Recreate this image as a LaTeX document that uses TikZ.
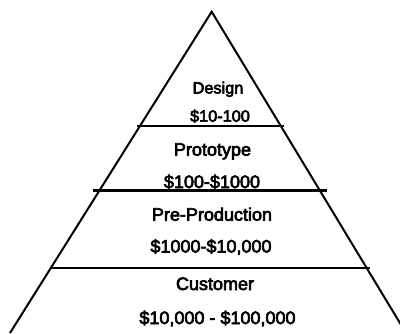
\documentclass[tikz,border=0pt]{standalone}
\usepackage{fontspec}
\setmainfont{Liberation Sans}
\newfontfamily\tierfont[FakeBold=3.5]{Liberation Sans}
\begin{document}
\begin{tikzpicture}[x=1pt,y=-1pt,
  edge/.style={line width=2pt,line join=miter},
  tier/.style={line width=2.2pt},
  lbl/.style={anchor=base,inner sep=0pt,font=\tierfont\fontsize{18}{20}\selectfont},
  toplbl/.style={lbl,font=\tierfont\fontsize{16.3}{18}\selectfont}]
  \useasboundingbox (0,0) rectangle (400,333);
  % pyramid outline
  \coordinate (apex) at (211.7,11.7);
  \coordinate (bl) at (10,333);
  \coordinate (br) at (406,333);
  \begin{scope}
    \clip (0,0) rectangle (400,333);
    \draw[edge] (bl) -- (apex) -- (br);
  \end{scope}
  % tier dividers
  \coordinate (t1l) at (137,126);   \coordinate (t1r) at (284,126);
  \coordinate (t2l) at (93,190.5);  \coordinate (t2r) at (327,190.5);
  \coordinate (t3l) at (51,268);    \coordinate (t3r) at (370,268);
  \draw[tier] (t1l) -- (t1r);
  \draw[tier] (t2l) -- (t2r);
  \draw[tier] (t3l) -- (t3r);
  % tier labels
  \node[toplbl] (design) at (218,93.5) {Design};
  \node[toplbl] (designcost) at (220,121.7) {\$10-100};
  \node[lbl] (proto) at (212.5,155.7) {Prototype};
  \node[lbl] (protocost) at (212,188) {\$100-\$1000};
  \node[lbl] (preprod) at (212,220.7) {Pre-Production};
  \node[lbl] (preprodcost) at (211,252.5) {\$1000-\$10,000};
  \node[lbl] (cust) at (215,290) {Customer};
  \node[lbl] (custcost) at (217.5,324) {\$10,000 - \$100,000};
\end{tikzpicture}
\end{document}
